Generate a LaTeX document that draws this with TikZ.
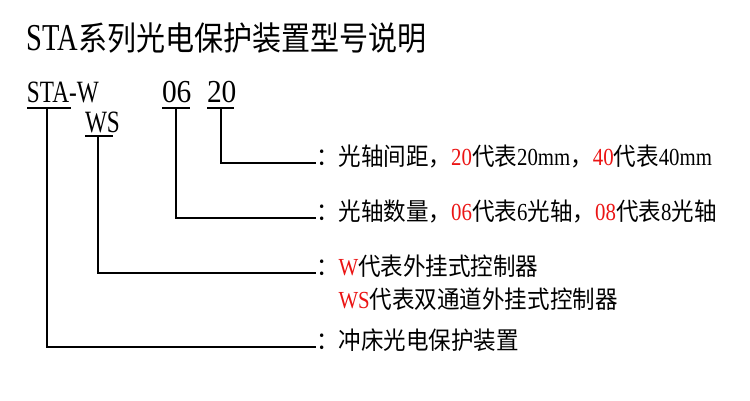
\documentclass[tikz,border=0pt]{standalone}
\usepackage{fontspec}
\setmainfont{Liberation Serif}[FakeStretch=0.85]
\newfontfamily\latn{Liberation Serif}[FakeStretch=0.75]
\newfontfamily\latnd{Liberation Serif}[FakeStretch=0.92]
\newfontfamily\cjk{Noto Sans CJK SC}[FakeStretch=0.92]
\newfontfamily\cjkt{Noto Sans CJK SC}[FakeStretch=0.88]
\definecolor{codered}{RGB}{235,20,20}
\newcommand{\rd}[1]{\textcolor{codered}{#1}}
\begin{document}
\begin{tikzpicture}[x=1pt,y=-1pt,
  lbl/.style={inner sep=0pt, outer sep=0pt, anchor=base west},
  titletext/.style={lbl, font=\latn\fontsize{38}{40}\selectfont},
  modeltext/.style={lbl, font=\latn\fontsize{31}{33}\selectfont},
  modeldigits/.style={lbl, font=\latnd\fontsize{32}{34}\selectfont},
  desc/.style={lbl, font=\fontsize{24.5}{26}\selectfont},
  wire/.style={line width=1.8pt}]
\useasboundingbox (0,0) rectangle (750,400);

% title
\node[titletext] (title) at (27,50) {STA{\cjkt\fontsize{33}{35}\selectfont 系列光电保护装置型号说明}};

% model code
\node[modeltext] (sta) at (27,102) {STA-W};
\node[modeltext] (ws)  at (85,132) {WS};
\node[modeldigits] (n06) at (162,102) {06};
\node[modeldigits] (n20) at (207,102) {20};

% descriptions
\node[desc] (d1) at (316,165) {{\cjk ：光轴间距，}\rd{20}{\cjk 代表}20mm{\cjk ，}\rd{40}{\cjk 代表}40mm};
\node[desc] (d2) at (316,220) {{\cjk ：光轴数量，}\rd{06}{\cjk 代表}6{\cjk 光轴，}\rd{08}{\cjk 代表}8{\cjk 光轴}};
\node[desc] (d3) at (316,275) {{\cjk ：}\rd{W}{\cjk 代表外挂式控制器}};
\node[desc] (d3b) at (338.5,308) {\rd{WS}{\cjk 代表双通道外挂式控制器}};
\node[desc] (d4) at (316,349) {{\cjk ：冲床光电保护装置}};

% underline coordinates
\coordinate (sta-l) at (27,108);  \coordinate (sta-r) at (71,108);  \coordinate (sta-m) at (47,108);
\coordinate (ws-l)  at (85,136);  \coordinate (ws-r)  at (113,136); \coordinate (ws-m)  at (98,136);
\coordinate (n06-l) at (162,108); \coordinate (n06-r) at (190,108); \coordinate (n06-m) at (176,108);
\coordinate (n20-l) at (207,108); \coordinate (n20-r) at (234,108); \coordinate (n20-m) at (221,108);

\draw[wire] (sta-l) -- (sta-r);
\draw[wire] (ws-l) -- (ws-r);
\draw[wire] (n06-l) -- (n06-r);
\draw[wire] (n20-l) -- (n20-r);

% connectors
\draw[wire] (n20-m) |- ([yshift=2pt]d1.base west);
\draw[wire] (n06-m) |- ([yshift=2pt]d2.base west);
\draw[wire] (ws-m)  |- ([yshift=2pt]d3.base west);
\draw[wire] (sta-m) |- ([yshift=2pt]d4.base west);
\end{tikzpicture}
\end{document}
